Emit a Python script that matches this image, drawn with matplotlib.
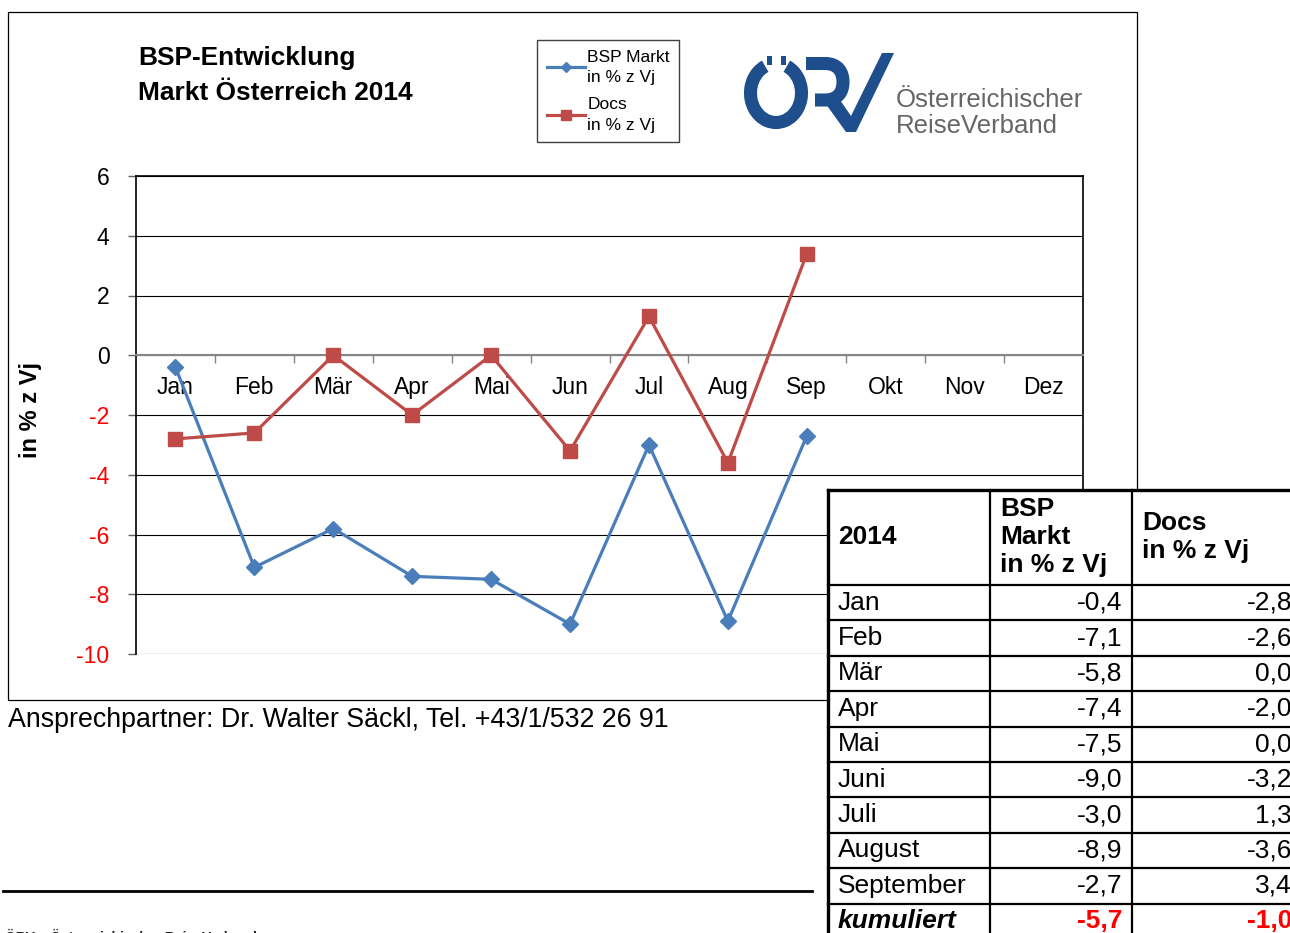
import matplotlib
matplotlib.use('Agg')
import matplotlib.pyplot as plt
import matplotlib.font_manager as fm
from matplotlib.patches import Rectangle, Arc, Polygon, PathPatch
from matplotlib.path import Path

# data
months = ["Jan", "Feb", "Mär", "Apr", "Mai", "Jun", "Jul", "Aug", "Sep", "Okt", "Nov", "Dez"]
bsp = [-0.4, -7.1, -5.8, -7.4, -7.5, -9.0, -3.0, -8.9, -2.7]
docs = [-2.8, -2.6, 0.0, -2.0, 0.0, -3.2, 1.3, -3.6, 3.4]
table_rows = ["Jan", "Feb", "Mär", "Apr", "Mai", "Juni", "Juli", "August", "September"]
kum_bsp = -5.7
kum_docs = -1.0

blue = '#4a7ebb'
red = '#be4b48'
logo_blue = '#1f4e8c'

avail = {f.name for f in fm.fontManager.ttflist}
narrow = 'Liberation Sans Narrow' if 'Liberation Sans Narrow' in avail else 'Liberation Sans'
narrow_scale = 1.0 if narrow == 'Liberation Sans Narrow' else 0.82
plt.rcParams['font.family'] = ['Liberation Sans', 'DejaVu Sans']
plt.rcParams['axes.unicode_minus'] = False

W, H = 1290, 933
fig = plt.figure(figsize=(W / 100, H / 100), dpi=100)

# chart
ax = fig.add_axes([136 / W, 1 - 654 / H, (1083 - 136) / W, (654 - 176) / H], zorder=1)
xs = [i + 0.5 for i in range(len(bsp))]
ax.plot(xs, bsp, color=blue, lw=2.3, marker='D', ms=8, label='BSP Markt\nin % z Vj', zorder=3)
ax.plot(xs, docs, color=red, lw=2.3, marker='s', ms=10, label='Docs\nin % z Vj', zorder=3)
ax.set_xlim(0, 12)
ax.set_ylim(-10, 6)
ax.set_yticks(range(-10, 7, 2))
ax.grid(axis='y', color='black', lw=0.8)
ax.set_axisbelow(True)
for s in ['left', 'top', 'right']:
    ax.spines[s].set_color('black')
    ax.spines[s].set_linewidth(1.2)
ax.spines['bottom'].set_position(('data', 0))
ax.spines['bottom'].set_color('#868686')
ax.spines['bottom'].set_linewidth(1.5)

ax.set_xticks([i + 0.5 for i in range(12)])
ax.set_xticklabels(months)
ax.set_xticks(range(1, 12), minor=True)
ax.tick_params(axis='x', which='major', length=0, pad=15, labelsize=16.5)
ax.tick_params(axis='x', which='minor', length=6, width=1, color='#868686', direction='out')
ax.tick_params(axis='y', length=6, width=1, color='#606060', direction='out', pad=13, labelsize=16.5)
for lab, v in zip(ax.get_yticklabels(), range(-10, 7, 2)):
    lab.set_color('#ff0000' if v < 0 else 'black')

leg = ax.legend(loc='upper left', bbox_to_anchor=(537 / W, 1 - 40 / H), bbox_transform=fig.transFigure,
                frameon=True, fancybox=False, edgecolor='#404040', framealpha=1,
                prop={'family': narrow, 'size': 13.5 * narrow_scale if narrow_scale == 1.0 else 12.5},
                handlelength=2.2, handletextpad=0.15, borderpad=0.55, labelspacing=0.7,
                markerscale=0.7, borderaxespad=0)
leg.get_frame().set_linewidth(1)
for t in leg.get_texts():
    t.set_linespacing(1.45)

# overlay in pixel coordinates
ov = fig.add_axes([0, 0, 1, 1], zorder=5)
ov.axis('off')
ov.patch.set_alpha(0)

ov.add_patch(Rectangle((8, 12), 1129, 688, fill=False, ec='black', lw=0.9))

ov.text(138, 58, 'BSP-Entwicklung', family=narrow, fontsize=23 * narrow_scale, fontweight='bold', va='center')
ov.text(138, 93, 'Markt Österreich 2014', family=narrow, fontsize=23 * narrow_scale, fontweight='bold', va='center')
ov.text(30, 410, 'in % z Vj', rotation=90, fontsize=17, fontweight='bold', ha='center', va='center')

# logo
ov.add_patch(Arc((776, 93), 51, 59, theta1=-68, theta2=248, lw=9.4, color=logo_blue))
ov.add_patch(Rectangle((767, 56), 5, 9, color=logo_blue, lw=0))
ov.add_patch(Rectangle((781, 56), 5, 9, color=logo_blue, lw=0))
bowl = Path([(806, 63.5), (825, 63.5), (838, 63.5), (843, 72), (843, 82),
             (843, 92), (838, 100), (825, 100), (815, 100)],
            [Path.MOVETO, Path.LINETO, Path.CURVE4, Path.CURVE4, Path.CURVE4,
             Path.CURVE4, Path.CURVE4, Path.CURVE4, Path.LINETO])
ov.add_patch(PathPatch(bowl, fill=False, ec=logo_blue, lw=9.4, capstyle='butt'))
ov.add_patch(Polygon([(823, 100), (840, 100), (851, 116), (882, 53), (894, 53), (856, 132), (846, 132)],
                     closed=True, color=logo_blue, lw=0))
ov.text(896, 107, 'Österreichischer', fontsize=18.5, color='#666666', va='baseline')
ov.text(896, 133, 'ReiseVerband', fontsize=18.5, color='#666666', va='baseline')

# footer
ov.text(8, 720, 'Ansprechpartner: Dr. Walter Säckl, Tel. +43/1/532 26 91', fontsize=19.3, va='center')
ov.plot([3, 812], [891, 891], color='black', lw=2)
ov.text(5, 942, 'ÖRV – Österreichischer ReiseVerband', fontsize=10, fontweight='bold', va='baseline', color='#222222')

# table
def fmt(v):
    return f"{v:.1f}".replace('.', ',')

tx = [828, 990, 1132]
top, row0, rh = 490, 585, 35.4
ov.add_patch(Rectangle((828, 490), 480, 460, fc='white', ec='none'))
n_rows = len(table_rows) + 1
for k in range(n_rows):
    y = row0 + k * rh
    ov.plot([828, 1300], [y, y], color='black', lw=1.6)
ov.plot([828, 1300], [top, top], color='black', lw=2.4)
ov.plot([828, 828], [top, 940], color='black', lw=2.4)
for xv in tx[1:]:
    ov.plot([xv, xv], [top, 940], color='black', lw=1.6)

ov.text(838, 537, '2014', fontsize=19, fontweight='bold', va='center')
ov.text(1000, 537, 'BSP\nMarkt\nin % z Vj', fontsize=19, fontweight='bold', va='center', linespacing=1.2)
ov.text(1142, 537, 'Docs\nin % z Vj', fontsize=19, fontweight='bold', va='center', linespacing=1.2)
for k, name in enumerate(table_rows):
    yc = row0 + (k + 0.5) * rh
    ov.text(838, yc, name, fontsize=19, va='center')
    ov.text(1122, yc, fmt(bsp[k]), fontsize=19, va='center', ha='right')
    ov.text(1292, yc, fmt(docs[k]), fontsize=19, va='center', ha='right')
yc = row0 + (len(table_rows) + 0.5) * rh
ov.text(838, yc, 'kumuliert', fontsize=19, fontweight='bold', fontstyle='italic', va='center')
ov.text(1122, yc, fmt(kum_bsp), fontsize=19, fontweight='bold', color='#ff0000', va='center', ha='right')
ov.text(1292, yc, fmt(kum_docs), fontsize=19, fontweight='bold', color='#ff0000', va='center', ha='right')

ov.set_xlim(0, W)
ov.set_ylim(H, 0)

fig.savefig('out.png', dpi=100)
